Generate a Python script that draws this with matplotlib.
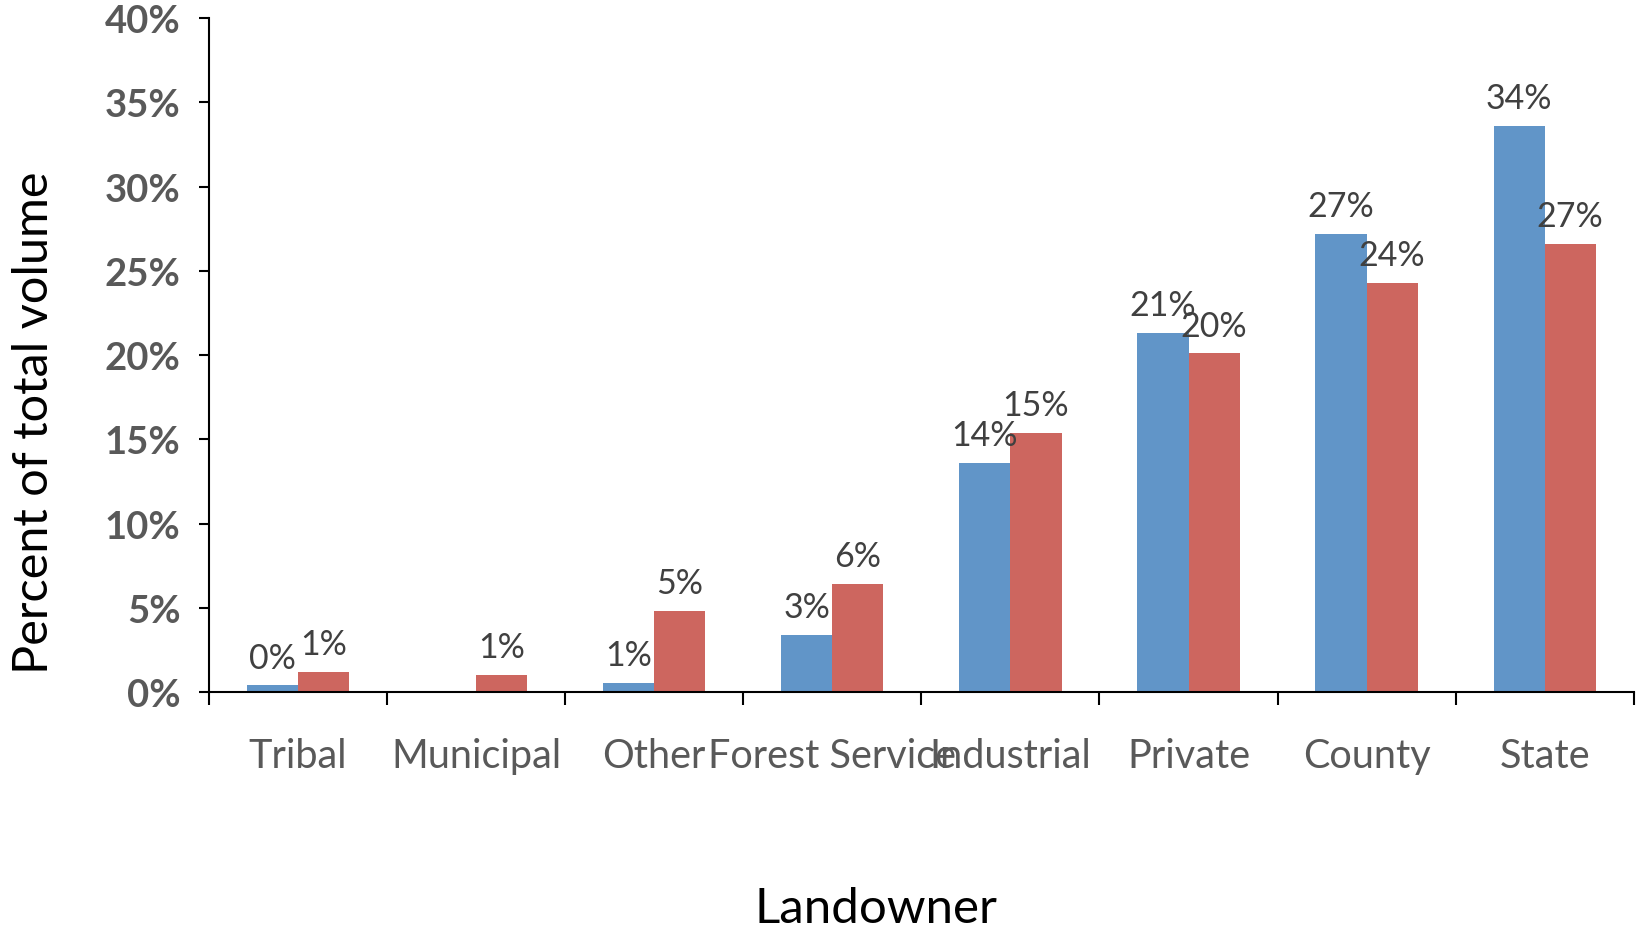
import numpy as np
import matplotlib
matplotlib.use("Agg")
import matplotlib.pyplot as plt

categories = ["Tribal", "Municipal", "Other", "Forest Service", "Industrial", "Private", "County", "State"]
series_blue = [0.4, 0.0, 0.55, 3.4, 13.6, 21.3, 27.2, 33.6]
series_red = [1.2, 1.0, 4.8, 6.4, 15.4, 20.1, 24.3, 26.6]
yticks = [0, 5, 10, 15, 20, 25, 30, 35, 40]

BLUE = "#6195C8"
RED = "#CD665F"
GREY = "#595959"
DARK = "#404040"

plt.rcParams['font.family'] = ['Lato', 'DejaVu Sans']

fig = plt.figure(figsize=(16.37, 9.29), dpi=100)
ax = fig.add_axes([0.1277, 0.254, 0.8703, 0.7255])

x = np.arange(len(categories))
w = 0.287
bb = ax.bar(x - w / 2, series_blue, w, color=BLUE, zorder=2)
br = ax.bar(x + w / 2, series_red, w, color=RED, zorder=2)

def lab(v):
    return f"{int(np.floor(v + 0.5))}%"

for bars, vals in ((bb, series_blue), (br, series_red)):
    for rect, v in zip(bars, vals):
        if v <= 0:
            continue
        ax.annotate(lab(v), (rect.get_x() + rect.get_width() / 2, v),
                    xytext=(0, 20), textcoords="offset points",
                    ha="center", va="center", fontsize=24.5, color=DARK)

ax.set_xlim(-0.5, len(categories) - 0.5)
ax.set_ylim(0, 40)
ax.set_yticks(yticks)
ax.set_yticklabels([f"{t}%" for t in yticks], fontsize=27.5, color=GREY, fontweight="bold")

ax.set_xticks([])
ax.set_xticks(np.arange(-0.5, len(categories)), minor=True)
ax.tick_params(axis="x", which="minor", length=9, width=1.5, direction="out", color="black")
ax.tick_params(axis="y", length=7.5, width=1.5, direction="out", color="black", pad=13)

for xi, name in zip(x, categories):
    ax.text(xi, -0.094, name, transform=ax.get_xaxis_transform(), ha="center", va="center",
            fontsize=28.5, color=GREY)

for s in ("top", "right"):
    ax.spines[s].set_visible(False)
ax.spines["left"].set_linewidth(1.5)
ax.spines["bottom"].set_linewidth(1.5)

fig.text(0.021, 0.545, "Percent of total volume", rotation=90, ha="center", va="center",
         fontsize=35, color="black")
fig.text(0.535, 0.022, "Landowner", ha="center", va="center", fontsize=35.5, color="black")

fig.savefig("out.png", dpi=100)
